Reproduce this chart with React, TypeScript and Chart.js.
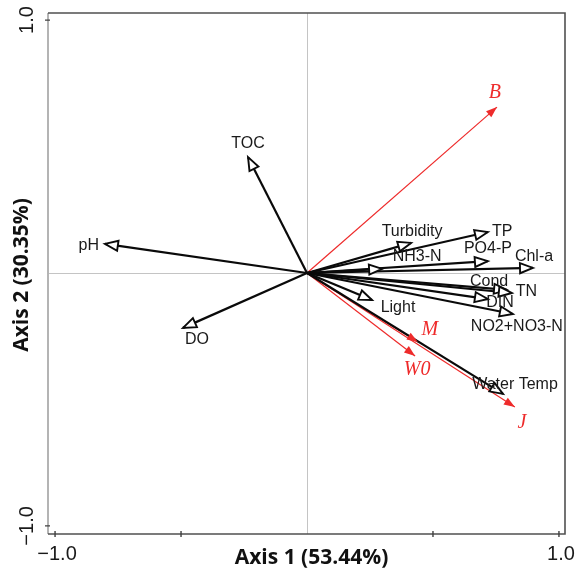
import React, { useEffect, useRef } from "react";
import { Chart, registerables } from "chart.js";

Chart.register(...registerables);

// ---- data ----
const envNames = ["TOC", "pH", "DO", "Turbidity", "TP", "PO4-P", "NH3-N", "Chl-a", "Cond", "TN", "DIN", "NO2+NO3-N", "Light", "Water Temp"];
const envAxis1 = [-0.234, -0.802, -0.492, 0.413, 0.718, 0.718, 0.298, 0.897, 0.794, 0.813, 0.718, 0.817, 0.258, 0.778];
const envAxis2 = [0.458, 0.115, -0.217, 0.119, 0.162, 0.047, 0.016, 0.02, -0.067, -0.079, -0.103, -0.162, -0.107, -0.478];
const siteNames = ["B", "M", "W0", "J"];
const siteAxis1 = [0.754, 0.44, 0.429, 0.825];
const siteAxis2 = [0.656, -0.273, -0.328, -0.53];
const xTickValues = [-1, -0.5, 0, 0.5, 1];
const xTickLabels = ["\u22121.0", "", "", "", "1.0"];
const yTickValues = [-1, 1];
const yTickLabels = ["\u22121.0", "1.0"];
const xTitle = "Axis 1 (53.44%)";
const yTitle = "Axis 2 (30.35%)";

// ---- label placement (style) ----
const labelPlace: Record<string, { dx: number; dy: number; align: CanvasTextAlign }> = {
  TOC: { dx: 0, dy: -14, align: "center" },
  pH: { dx: -6, dy: 2, align: "right" },
  DO: { dx: 14, dy: 12, align: "center" },
  Turbidity: { dx: 1, dy: -11, align: "center" },
  TP: { dx: 4, dy: 0, align: "left" },
  "PO4-P": { dx: 0, dy: -13, align: "center" },
  "NH3-N": { dx: 35, dy: -12, align: "center" },
  "Chl-a": { dx: 1, dy: -11, align: "center" },
  Cond: { dx: -18, dy: -8, align: "center" },
  TN: { dx: 4, dy: -1, align: "left" },
  DIN: { dx: 12, dy: 4, align: "center" },
  "NO2+NO3-N": { dx: 4, dy: 13, align: "center" },
  Light: { dx: 26, dy: 8, align: "center" },
  "Water Temp": { dx: 12, dy: -9, align: "center" },
  B: { dx: -2, dy: -14, align: "center" },
  M: { dx: 12, dy: -12, align: "center" },
  W0: { dx: 2, dy: 14, align: "center" },
  J: { dx: 7, dy: 16, align: "center" },
};

const BLACK = "#0a0a0a";
const RED = "#ee2b2b";

function drawHead(ctx: CanvasRenderingContext2D, ox: number, oy: number, tx: number, ty: number, len: number, half: number, fill: string, stroke: string, lw: number) {
  const a = Math.atan2(ty - oy, tx - ox);
  const bx = tx - len * Math.cos(a);
  const by = ty - len * Math.sin(a);
  const px = -Math.sin(a) * half;
  const py = Math.cos(a) * half;
  ctx.beginPath();
  ctx.moveTo(tx, ty);
  ctx.lineTo(bx + px, by + py);
  ctx.lineTo(bx - px, by - py);
  ctx.closePath();
  ctx.fillStyle = fill;
  ctx.fill();
  if (lw > 0) {
    ctx.lineWidth = lw;
    ctx.strokeStyle = stroke;
    ctx.lineJoin = "miter";
    ctx.stroke();
  }
}

const biplotPlugin = {
  id: "biplot",
  beforeDatasetsDraw(chart: any) {
    const { ctx, chartArea: ca, scales } = chart;
    const xs = scales.x;
    const ys = scales.y;
    const x0 = xs.getPixelForValue(0);
    const y0 = ys.getPixelForValue(0);
    ctx.save();
    // crosshair
    ctx.strokeStyle = "#c4c4c4";
    ctx.lineWidth = 1;
    ctx.beginPath();
    ctx.moveTo(Math.round(x0) + 0.5, ca.top);
    ctx.lineTo(Math.round(x0) + 0.5, ca.bottom);
    ctx.moveTo(ca.left, Math.round(y0) + 0.5);
    ctx.lineTo(ca.right, Math.round(y0) + 0.5);
    ctx.stroke();
    // frame
    ctx.strokeStyle = "#b4b4b4";
    ctx.lineWidth = 2;
    ctx.beginPath();
    ctx.moveTo(ca.left, ca.top);
    ctx.lineTo(ca.left, ca.bottom);
    ctx.stroke();
    ctx.strokeStyle = "#505050";
    ctx.lineWidth = 1.6;
    ctx.beginPath();
    ctx.moveTo(ca.left, ca.top);
    ctx.lineTo(ca.right, ca.top);
    ctx.lineTo(ca.right, ca.bottom);
    ctx.lineTo(ca.left, ca.bottom);
    ctx.stroke();
    // ticks
    ctx.lineWidth = 1.4;
    ctx.strokeStyle = "#404040";
    ctx.beginPath();
    xTickValues.forEach((v) => {
      if (v === 0) return;
      const px = xs.getPixelForValue(v);
      ctx.moveTo(px, ca.bottom - 3);
      ctx.lineTo(px, ca.bottom + 3);
    });
    yTickValues.forEach((v) => {
      const py = ys.getPixelForValue(v);
      ctx.moveTo(ca.left - 3, py);
      ctx.lineTo(ca.left + 2, py);
    });
    ctx.stroke();
    // tick labels
    ctx.fillStyle = "#1a1a1a";
    ctx.font = "20px 'Liberation Sans', Arial, sans-serif";
    ctx.textAlign = "center";
    ctx.textBaseline = "middle";
    xTickValues.forEach((v, i) => {
      if (!xTickLabels[i]) return;
      ctx.fillText(xTickLabels[i], xs.getPixelForValue(v) + 2, ca.bottom + 20);
    });
    yTickValues.forEach((v, i) => {
      ctx.save();
      ctx.translate(ca.left - 21, ys.getPixelForValue(v));
      ctx.rotate(-Math.PI / 2);
      ctx.fillText(yTickLabels[i], 0, 0);
      ctx.restore();
    });
    // titles
    ctx.font = "bold 21px 'Open Sans', sans-serif";
    ctx.fillStyle = "#111";
    ctx.fillText(xTitle, (ca.left + ca.right) / 2 + 5, ca.bottom + 24);
    ctx.save();
    ctx.translate(22, y0 + 2);
    ctx.rotate(-Math.PI / 2);
    ctx.fillText(yTitle, 0, 0);
    ctx.restore();
    ctx.restore();
  },
  afterDatasetsDraw(chart: any) {
    const { ctx, scales } = chart;
    const xs = scales.x;
    const ys = scales.y;
    const ox = xs.getPixelForValue(0);
    const oy = ys.getPixelForValue(0);
    ctx.save();
    // red heads
    siteNames.forEach((n, i) => {
      const tx = xs.getPixelForValue(siteAxis1[i]);
      const ty = ys.getPixelForValue(siteAxis2[i]);
      drawHead(ctx, ox, oy, tx, ty, 11, 4, RED, RED, 0);
    });
    // black heads
    envNames.forEach((n, i) => {
      const tx = xs.getPixelForValue(envAxis1[i]);
      const ty = ys.getPixelForValue(envAxis2[i]);
      drawHead(ctx, ox, oy, tx, ty, 13, 5, "#ffffff", BLACK, 1.9);
    });
    // labels
    ctx.textBaseline = "middle";
    ctx.fillStyle = "#1a1a1a";
    ctx.font = "16px 'Liberation Sans', Arial, sans-serif";
    envNames.forEach((n, i) => {
      const p = labelPlace[n];
      const tx = xs.getPixelForValue(envAxis1[i]);
      const ty = ys.getPixelForValue(envAxis2[i]);
      ctx.textAlign = p.align;
      ctx.fillText(n, tx + p.dx, ty + p.dy);
    });
    ctx.fillStyle = RED;
    ctx.font = "italic 20px 'Liberation Serif', 'Times New Roman', serif";
    siteNames.forEach((n, i) => {
      const p = labelPlace[n];
      const tx = xs.getPixelForValue(siteAxis1[i]);
      const ty = ys.getPixelForValue(siteAxis2[i]);
      ctx.textAlign = p.align;
      ctx.fillText(n, tx + p.dx, ty + p.dy);
    });
    ctx.restore();
  },
};

export default function App() {
  const ref = useRef<HTMLCanvasElement | null>(null);
  useEffect(() => {
    document.body.style.margin = "0";
    const canvas = ref.current;
    if (!canvas) return;
    const envSets = envNames.map((n, i) => ({
      label: n,
      data: [
        { x: 0, y: 0 },
        { x: envAxis1[i], y: envAxis2[i] },
      ],
      showLine: true,
      borderColor: BLACK,
      borderWidth: 2.2,
      pointRadius: 0,
      pointHoverRadius: 0,
    }));
    const siteSets = siteNames.map((n, i) => ({
      label: n,
      data: [
        { x: 0, y: 0 },
        { x: siteAxis1[i], y: siteAxis2[i] },
      ],
      showLine: true,
      borderColor: RED,
      borderWidth: 1.2,
      pointRadius: 0,
      pointHoverRadius: 0,
    }));
    const chart = new Chart(canvas, {
      type: "scatter",
      data: { datasets: [...envSets, ...siteSets] as any },
      options: {
        responsive: false,
        animation: false,
        devicePixelRatio: 1,
        layout: { padding: { left: 48, top: 13, right: 11, bottom: 39 } },
        plugins: { legend: { display: false }, tooltip: { enabled: false } },
        events: [],
        scales: {
          x: { type: "linear", min: -1.028, max: 1.024, display: false },
          y: { type: "linear", min: -1.032, max: 1.028, display: false },
        },
      },
      plugins: [biplotPlugin],
    });
    return () => chart.destroy();
  }, []);
  return (
    <div style={{ width: 576, height: 573, background: "#fff" }}>
      <canvas ref={ref} width={576} height={573} style={{ display: "block" }} />
    </div>
  );
}
